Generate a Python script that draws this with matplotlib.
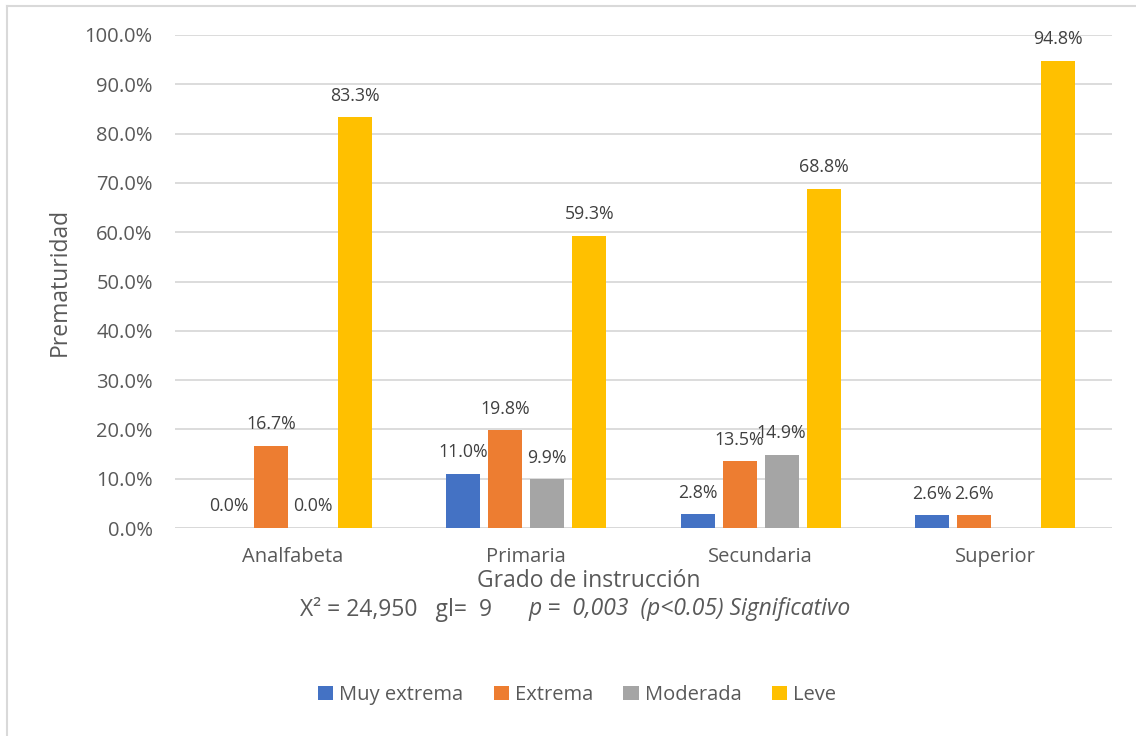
import matplotlib.pyplot as plt
import numpy as np
from matplotlib.lines import Line2D

plt.rcParams['font.family'] = ['Open Sans', 'DejaVu Sans']

# data
categories = ['Analfabeta', 'Primaria', 'Secundaria', 'Superior']
series_names = ['Muy extrema', 'Extrema', 'Moderada', 'Leve']
muy_extrema = [0.0, 11.0, 2.8, 2.6]
extrema = [16.7, 19.8, 13.5, 2.6]
moderada = [0.0, 9.9, 14.9, None]
leve = [83.3, 59.3, 68.8, 94.8]
colors = ['#4472C4', '#ED7D31', '#A5A5A5', '#FFC000']
y_ticks = [0, 10, 20, 30, 40, 50, 60, 70, 80, 90, 100]

fig = plt.figure(figsize=(11.36, 7.36), dpi=100)
W, H = 1136, 736
ax = fig.add_axes([175 / W, 1 - 528 / H, (1112 - 175) / W, (528 - 35) / H])

x = np.arange(len(categories))
pitch = 0.179
width = 0.145
all_series = [muy_extrema, extrema, moderada, leve]
for i, (name, vals, col) in enumerate(zip(series_names, all_series, colors)):
    pos = x + (i - 1.5) * pitch
    heights = [np.nan if v is None else v for v in vals]
    ax.bar(pos, heights, width=width, color=col, label=name, zorder=3)
    for p, v in zip(pos, vals):
        if v is None:
            continue
        ax.annotate(f'{v:.1f}%', (p, v), xytext=(0, 12), textcoords='offset points',
                    ha='center', va='baseline', fontsize=12.8, color='#404040')

ax.set_xlim(-0.5, len(categories) - 0.5)
ax.set_ylim(0, 100)
ax.set_yticks(y_ticks)
ax.set_yticklabels([f'{t:.1f}%' for t in y_ticks])
ax.set_xticks(x)
ax.set_xticklabels(categories)
ax.tick_params(axis='both', length=0, labelsize=14.5, colors='#595959')
ax.tick_params(axis='y', pad=16)
ax.tick_params(axis='x', pad=14)
ax.grid(axis='y', color='#D9D9D9', linewidth=1.3, zorder=0)
for s in ax.spines.values():
    s.set_visible(False)
ax.axhline(0, color='#D9D9D9', linewidth=1.3, zorder=1)

fig.text(60 / W, 1 - 282 / H, 'Prematuridad', rotation=90, ha='center', va='center',
         fontsize=16.5, color='#595959')
fig.text(589 / W, 1 - 581 / H, 'Grado de instrucción', ha='center', va='center',
         fontsize=16.5, color='#595959')

# statistic line
fig.text(300 / W, 1 - 609 / H, 'X² = 24,950   gl=  9', ha='left', va='center',
         fontsize=16.5, color='#595959')
fig.text(528 / W, 1 - 609 / H, 'p =  0,003  (p<0.05) Significativo', ha='left',
         va='center', fontsize=16.5, color='#595959', style='italic')

fig.legend(loc='center', bbox_to_anchor=(577 / W, 1 - 695 / H), ncol=4,
           frameon=False, fontsize=14.5, labelcolor='#595959', handlelength=0.75,
           handleheight=0.75, handletextpad=0.3, columnspacing=1.5)

# chart border (left and top edges visible)
fig.add_artist(Line2D([7 / W, 7 / W], [0, 1 - 6 / H], transform=fig.transFigure,
                      color='#D9D9D9', linewidth=1.5))
fig.add_artist(Line2D([7 / W, 1], [1 - 6 / H, 1 - 6 / H], transform=fig.transFigure,
                      color='#D9D9D9', linewidth=1.5))

fig.savefig('out.png', dpi=100)
